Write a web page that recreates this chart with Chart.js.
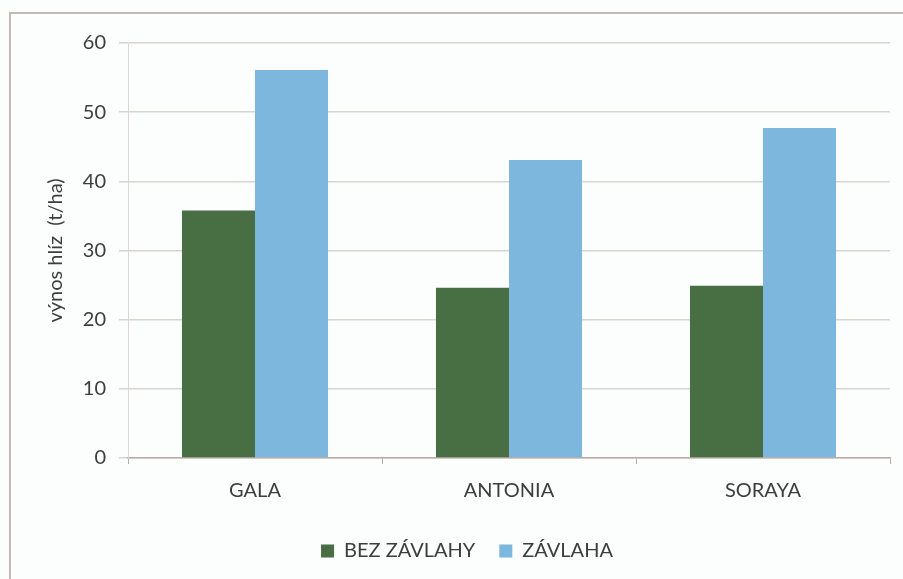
<!DOCTYPE html>
<html>
<head>
<meta charset="utf-8">
<script src="https://cdn.jsdelivr.net/npm/chart.js@4.4.1/dist/chart.umd.min.js"></script>
<style>
  html, body { margin: 0; padding: 0; background: #fcfdfd; }
  #wrap { position: relative; width: 903px; height: 579px; overflow: hidden; background: #fcfdfd; }
  #frame { position: absolute; left: 9px; top: 12px; width: 1000px; height: 700px; border: 2px solid #c2b9b4; box-sizing: border-box; }
  canvas { position: absolute; left: 0; top: 0; }
</style>
</head>
<body>
<div id="wrap">
  <div id="frame"></div>
  <canvas id="c" width="903" height="579"></canvas>
</div>
<script>
const categories = ["GALA", "ANTONIA", "SORAYA"];
const seriesNames = ["BEZ ZÁVLAHY", "ZÁVLAHA"];
const bezZavlahy = [35.8, 24.6, 24.9];
const zavlaha = [56.1, 43.1, 47.7];
const yTicks = [0, 10, 20, 30, 40, 50, 60];
const yTitle = "výnos hlíz  (t/ha)";

const FONT = "Lato, 'Open Sans', sans-serif";
const TEXT = "#3d3d3d";

new Chart(document.getElementById("c"), {
  type: "bar",
  data: {
    labels: categories,
    datasets: [
      { label: seriesNames[0], data: bezZavlahy, backgroundColor: "#476f43", borderWidth: 0,
        categoryPercentage: 0.575, barPercentage: 1.0 },
      { label: seriesNames[1], data: zavlaha, backgroundColor: "#7eb7dd", borderWidth: 0,
        categoryPercentage: 0.575, barPercentage: 1.0 }
    ]
  },
  options: {
    responsive: false,
    animation: false,
    devicePixelRatio: 1,
    layout: { padding: { left: 44, right: 13, top: 43, bottom: 8 } },
    plugins: {
      legend: {
        position: "bottom",
        labels: { boxWidth: 13, boxHeight: 13, color: TEXT, font: { family: FONT, size: 20 }, padding: 24 }
      },
      tooltip: { enabled: false }
    },
    scales: {
      x: {
        grid: { display: true, drawOnChartArea: false, drawTicks: true, tickLength: 6, tickColor: "#b8aca6", offset: true },
        border: { display: true, color: "#b8aca6", width: 1.5 },
        ticks: { color: TEXT, font: { family: FONT, size: 20 }, padding: 15 },
        afterFit: (s) => { s.height = 59; }
      },
      y: {
        min: 0, max: 60,
        afterBuildTicks: (s) => { s.ticks = yTicks.map(v => ({ value: v })); },
        grid: { color: "#d9d3cf", lineWidth: 1.5, tickLength: 9, tickColor: "#d9d3cf" },
        border: { display: true, color: "#dcd7d4", width: 1 },
        ticks: { color: TEXT, font: { family: FONT, size: 20 }, padding: 13 },
        title: { display: true, text: yTitle, color: TEXT, font: { family: FONT, size: 20 }, padding: 0 },
        afterFit: (s) => { s.width = 84; }
      }
    }
  }
});
</script>
</body>
</html>
